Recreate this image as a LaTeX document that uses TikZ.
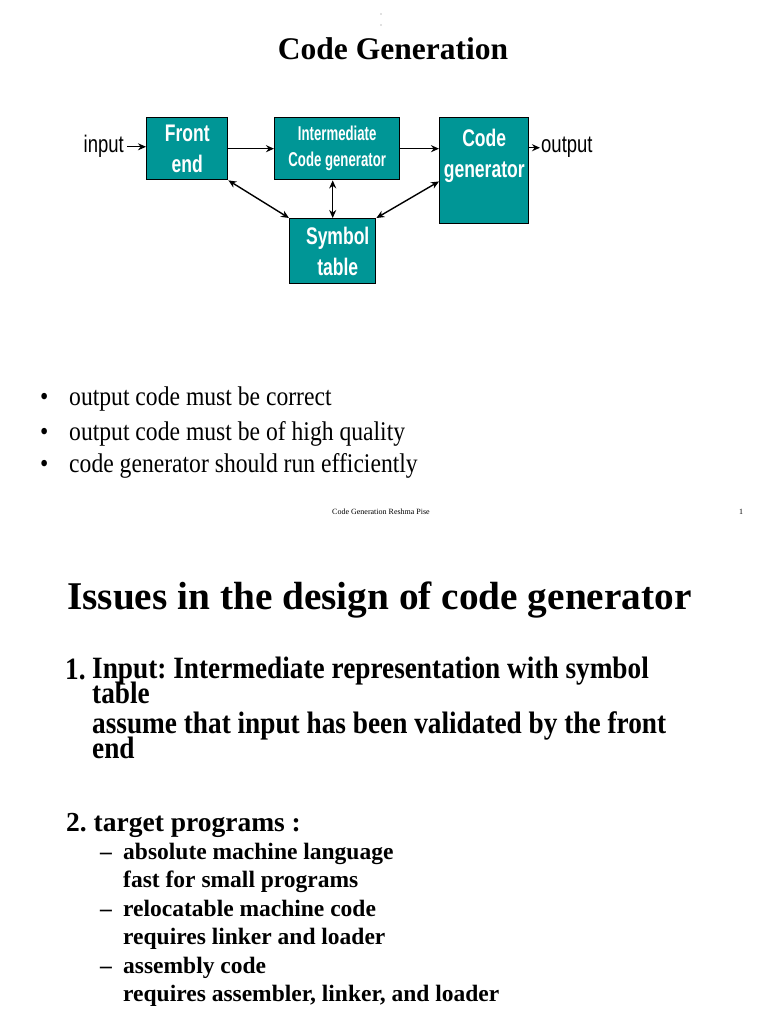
\documentclass[tikz,border=0pt]{standalone}
\usepackage{fontspec}
\setmainfont{Liberation Serif}
\newfontfamily\blockfont[FakeStretch=0.73]{Liberation Sans}
\newfontfamily\labelfont[FakeStretch=0.77]{Liberation Sans}
\newfontfamily\narrowblockfont[FakeStretch=0.66]{Liberation Sans}
\newfontfamily\tallserif[FakeStretch=0.88]{Liberation Serif}
\newfontfamily\bulletserif[FakeStretch=0.875]{Liberation Serif}
\usetikzlibrary{calc, arrows.meta}
\definecolor{blockteal}{RGB}{0,150,150}
\frenchspacing
\lineskiplimit=-40pt

\begin{document}
\begin{tikzpicture}[x=1pt, y=-1pt,
        block/.style={draw=black, line width=1.4pt, fill=blockteal, text=white, align=center,
            anchor=north west, inner sep=0pt, font=\blockfont\bfseries\fontsize{24}{31}\selectfont},
        flow/.style={line width=1.4pt, -{Stealth[length=8pt,width=7pt]}},
        both/.style={line width=1.4pt, {Stealth[length=8pt,width=7pt]}-{Stealth[length=8pt,width=7pt]}},
        txt/.style={anchor=base west, inner sep=0pt}]
    \useasboundingbox[fill=white] (0,0) rectangle (768,1024);
    \fill[gray] (381,14) circle (0.6pt) (381,25) circle (0.6pt);
    \node[anchor=base, inner sep=0pt, font=\fontsize{31.5}{31.5}\selectfont\bfseries] (title) at (393,60) {Code Generation};
    % blocks
    \node[block, minimum width=81pt, minimum height=62pt] (front) at (146,117) {Front\\end};
    \node[block, minimum width=125pt, minimum height=62pt, text depth=4pt,
          font=\narrowblockfont\bfseries\fontsize{20}{26}\selectfont] (inter) at (274,117) {Intermediate\\Code generator};
    \node[block, minimum width=89pt, minimum height=106pt, text depth=34pt] (codegen) at (439,117) {Code\\generator};
    \node[block, minimum width=86pt, minimum height=65pt] (symtab) at (289,218) {\hspace*{10pt}Symbol\\\hspace*{10pt}table};
    \node[anchor=base east, inner ysep=0pt, inner xsep=3pt, font=\labelfont\fontsize{24}{24}\selectfont] (input) at (127,153) {input};
    \node[anchor=base west, inner ysep=0pt, inner xsep=1pt, font=\labelfont\fontsize{24}{24}\selectfont] (output) at (540,153) {output};
    \draw[flow] (input.east) -- (input.east -| front.west);
    \draw[flow] (front) -- (inter);
    \draw[flow] (inter.east) -- (inter.east -| codegen.west);
    \draw[flow] (output.west -| codegen.east) -- (output.west);
    \draw[both] (front.south east) -- (symtab.north west);
    \draw[both] (symtab.north) -- (symtab.north |- inter.south);
    \draw[both] (symtab.north east) -- ($(codegen.north west)!0.6!(codegen.south west)$);
    % bullets
    \foreach \y/\point [count=\i] in {405/output code must be correct, 440/output code must be of high quality, 472/code generator should run efficiently}{
        \node[txt, font=\bulletserif\fontsize{27}{27}\selectfont] (dot\i) at (40,\y) {•};
        \node[txt, font=\bulletserif\fontsize{27}{27}\selectfont] (point\i) at (69,\y) {\point};
    }
    \node[anchor=base, inner sep=0pt, font=\fontsize{8}{8}\selectfont] (footer) at (381,514) {Code Generation Reshma Pise};
    \node[anchor=base, inner sep=0pt, font=\fontsize{8}{8}\selectfont] (pagenum) at (741,514) {1};
    % second slide
    \node[txt, font=\fontsize{39.3}{39.3}\selectfont\bfseries] (issues) at (67,609) {Issues in the design of code generator};
    \node[txt, font=\tallserif\fontsize{31}{31}\selectfont\bfseries] (one) at (65,679) {1.};
    \node[txt, align=left, font=\tallserif\fontsize{31}{24.5}\selectfont\bfseries] (input1) at (92,703) {Input: Intermediate representation with symbol\\table};
    \node[txt, align=left, font=\tallserif\fontsize{31}{25}\selectfont\bfseries] (input2) at (92,758) {assume that input has been validated by the front\\end};
    \node[txt, font=\fontsize{27.5}{27.5}\selectfont\bfseries] (two) at (66,831) {2. target programs :};
    \foreach \y/\sub [count=\i] in {859/absolute machine language, 916/relocatable machine code, 973/assembly code}{
        \node[txt, font=\fontsize{23.5}{23.5}\selectfont\bfseries] (dash\i) at (100,\y) {--};
    }
    \foreach \y/\sub [count=\i] in {859/absolute machine language, 887/fast for small programs,
            916/relocatable machine code, 944/requires linker and loader,
            973/assembly code, 1001/{requires assembler, linker, and loader}}{
        \node[txt, font=\fontsize{23.5}{23.5}\selectfont\bfseries] (target\i) at (123,\y) {\sub};
    }
\end{tikzpicture}
\end{document}
